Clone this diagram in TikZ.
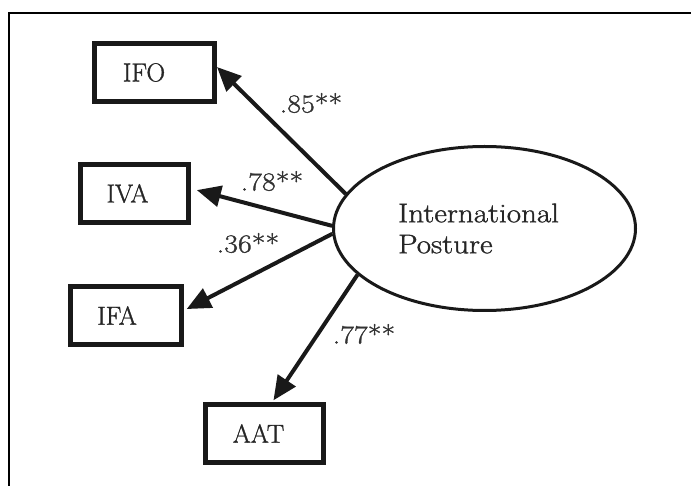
\documentclass[tikz,border=0pt]{standalone}
\usepackage{fontspec}
\newfontfamily\scanfont{Latin Modern Roman}[FakeBold=1.2]
\newfontfamily\scanwide{Latin Modern Roman}[FakeBold=1.2, FakeStretch=1.15]
\usetikzlibrary{arrows.meta,shapes.geometric}
\tikzset{
  obsbox/.style={draw=black!90, line width=5pt, minimum height=58pt, inner sep=0pt,
    text=black!85, font=\scanfont\fontsize{26}{30}\selectfont},
  latent/.style={ellipse, draw=black!90, line width=3pt, minimum width=302pt, minimum height=164pt,
    inner sep=0pt, align=left, text=black!85, font=\scanwide\fontsize{27}{31}\selectfont},
  loading/.style={draw=black!90, line width=4pt, -{Triangle[length=24pt,width=21pt]}},
  coef/.style={text=black!80, inner sep=0pt, font=\scanwide\fontsize{26}{28}\selectfont},
  frame/.style={draw=black, line width=1.5pt}
}
\begin{document}
\begin{tikzpicture}[x=1pt,y=-1pt]
\useasboundingbox (0,0) rectangle (691,486);
\draw[frame] (691,13) -- (9,13) -- (9,486);

\node[obsbox, minimum width=120pt] (IFO) at (154.5,72.5) {IFO\hspace*{21pt}};
\node[obsbox, minimum width=108pt] (IVA) at (134.5,193.5) {IVA\hspace*{14pt}};
\node[obsbox, minimum width=111pt] (IFA) at (126,315.5) {IFA\hspace*{18pt}};
\node[obsbox, minimum width=118pt] (AAT) at (264.5,433.5) {AAT\hspace*{12pt}};

\node[latent] (IP) at (484.5,228.5) {International\hspace*{12pt}\\Posture};

\draw[loading] (IP.166) -- (IFO.5);
\draw[loading, shorten >=6pt] (IP.179) -- (IVA.5.6);
\draw[loading, shorten >=3pt] (IP.182) -- (IFA.5.4);
\draw[loading, shorten >=2pt] (IP.200) -- (AAT.76.6);

\node[coef] (c1) at (311,103) {.85**};
\node[coef] (c2) at (272,181) {.78**};
\node[coef] (c3) at (248,243) {.36**};
\node[coef] (c4) at (364,334) {.77**};
\end{tikzpicture}
\end{document}
